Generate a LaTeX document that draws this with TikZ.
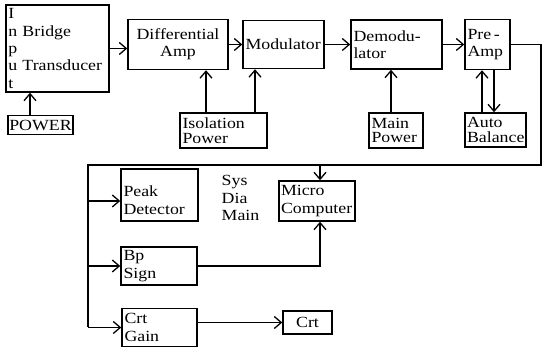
\documentclass[tikz,border=0pt]{standalone}
\usepackage{fontspec}
\setmainfont{Liberation Serif}[FakeStretch=1.15]
\usetikzlibrary{arrows.meta,positioning}
\tikzset{
  blk/.style={rectangle,draw,line width=1.5pt,inner sep=2.5pt,align=left,
              font=\fontsize{15.5}{17.3}\selectfont},
  sblk/.style={blk,font=\fontsize{15.5}{14.5}\selectfont},
  ln/.style={line width=1.3pt},
  arr/.style={ln,-{Straight Barb[length=7pt,width=12pt,line width=1.3pt]}},
  lbl/.style={align=left,font=\fontsize{15.5}{17.3}\selectfont},
}

\begin{document}
\begin{tikzpicture}[x=1pt,y=-1pt]
  \useasboundingbox (0,0) rectangle (544,347);

  %% ── forward chain ─────────────────────────────────────────────────────
  \node[blk,text width=98pt,minimum height=87pt] (inp) at (57.5,48.5)
        {I\\\makebox[14pt][l]{n}Bridge\\p\\\makebox[14pt][l]{u}Transducer\\t};
  \node[blk,align=center,text width=95pt,minimum height=50pt] (diff) at (178,44.5)
        {Differential\\Amp};
  \node[blk,text width=76pt,minimum height=48pt] (mod) at (283.5,44.5) {Modulator};
  \node[blk,text width=86pt,minimum height=49pt] (dem) at (396.5,44.5) {Demodu-\\lator};
  \node[blk,text width=40pt,minimum height=50pt] (pre) at (487.5,44.5) {Pre\,-\\Amp};

  %% ── power supplies ────────────────────────────────────────────────────
  \node[sblk,align=center,inner sep=1pt,minimum width=65pt,minimum height=19pt]
        (pwr) at (40.5,125) {POWER};
  \node[sblk,text width=82pt,minimum height=35pt] (iso) at (223.5,130.5) {Isolation\\Power};
  \node[sblk,text width=49pt,minimum height=35pt] (mpw) at (396,130.5) {Main\\Power};
  \node[sblk,inner sep=2pt,text width=57pt,minimum height=34pt] (bal) at (495.5,130)
        {Auto\\Balance};

  %% ── back end ──────────────────────────────────────────────────────────
  \node[blk,text width=72pt,minimum height=52pt] (pk) at (159.5,195)
        {\rule{0pt}{21pt}Peak\\Detector};
  \node[blk,inner sep=2pt,text width=72pt,minimum height=40pt] (mc) at (317,201)
        {Micro\\Computer};
  \node[blk,text width=71pt,minimum height=38pt] (bp) at (159,266) {Bp\\Sign};
  \node[blk,text width=70pt,minimum height=38pt] (cg) at (159.5,327.5) {Crt\\Gain};
  \node[blk,align=center,text width=44pt,minimum height=23pt] (crt) at (307.5,322.5) {Crt};
  \node[lbl] (sys) at (240.5,198) {Sys\\Dia\\Main};

  %% ── forward arrows ────────────────────────────────────────────────────
  \draw[arr] (inp.east) -- (inp.east -| diff.west);
  \draw[arr] (diff) -- (mod);
  \draw[arr] (mod) -- (dem);
  \draw[arr] (dem) -- (pre);

  %% ── supply arrows ─────────────────────────────────────────────────────
  \draw[arr] ([xshift=-10.5pt]pwr.north) -- ([xshift=-10.5pt]pwr.north |- inp.south);
  \draw[arr] ([xshift=-17.5pt]iso.north) -- ([xshift=-17.5pt]iso.north |- diff.south);
  \draw[arr] ([xshift=31.5pt]iso.north) -- ([xshift=31.5pt]iso.north |- mod.south);
  \draw[arr] ([xshift=-5pt]mpw.north) -- ([xshift=-5pt]mpw.north |- dem.south);
  \draw[arr] ([xshift=-13.5pt]bal.north) -- ([xshift=-13.5pt]bal.north |- pre.south);
  \draw[arr] ([xshift=-1.5pt]bal.north |- pre.south) -- ([xshift=-1.5pt]bal.north);

  %% ── return bus ────────────────────────────────────────────────────────
  \coordinate (ne) at (541,44.5);
  \coordinate (se) at (541,165);
  \coordinate (sw) at (88,165);
  \coordinate (tap) at (320,165);
  \coordinate (pkin) at ([yshift=-6pt]pk.west);
  \draw[ln] (pre.east) -- (ne) -- (se) -- (sw) -- (sw |- cg.west);
  \draw[arr] (sw |- pkin) -- (pkin);
  \draw[arr] (sw |- bp.west) -- (bp.west);
  \draw[arr] (sw |- cg.west) -- (cg.west);
  \draw[arr] (tap) -- (tap |- mc.north);
  \draw[arr] (bp.east) -| (tap |- mc.south);
  \draw[arr] (cg.east |- crt.west) -- (crt.west);

\end{tikzpicture}
\end{document}
